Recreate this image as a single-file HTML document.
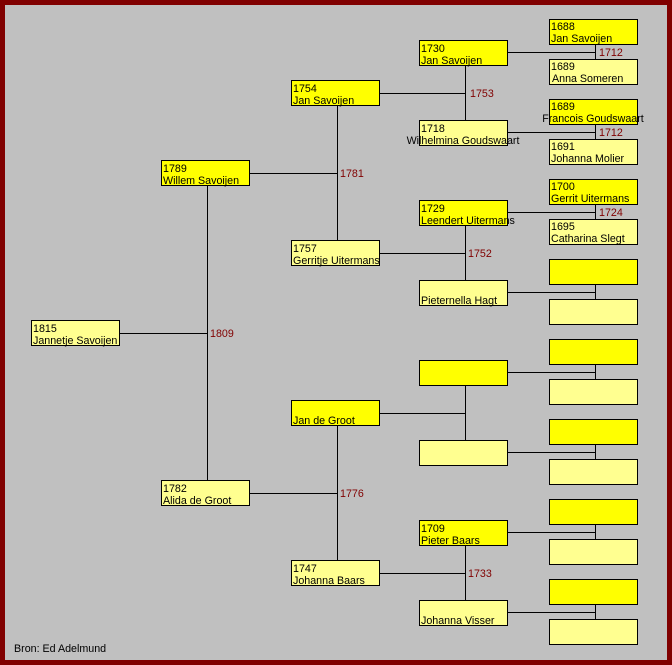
<!DOCTYPE html>
<html><head><meta charset="utf-8"><style>
html,body{margin:0;padding:0;background:#c0c0c0;}
svg{display:block;}
text{font-family:"Liberation Sans",sans-serif;font-size:10.7px;fill:#000;}
.y{fill:#800000;}
</style></head><body>
<svg width="672" height="665" xmlns="http://www.w3.org/2000/svg">
<rect x="2.5" y="2.5" width="667" height="660" fill="#c0c0c0" stroke="#800000" stroke-width="5"/>
<g stroke="#000" stroke-width="1" fill="none">
<path d="M119.5 333.5H207.5M207.5 186V481"/>
<path d="M249 173.5H337.5M337.5 106V241"/>
<path d="M249 493.5H337.5M337.5 426V561"/>
<path d="M379 93.5H465.5M465.5 65V121"/>
<path d="M379 253.5H465.5M465.5 225V281"/>
<path d="M379 413.5H465.5M465.5 385V441"/>
<path d="M379 573.5H465.5M465.5 545V601"/>
<path d="M507 52.5H595.5M595.5 44V59"/>
<path d="M507 132.5H595.5M595.5 124V139"/>
<path d="M507 212.5H595.5M595.5 204V219"/>
<path d="M507 292.5H595.5M595.5 284V299"/>
<path d="M507 372.5H595.5M595.5 364V379"/>
<path d="M507 452.5H595.5M595.5 444V459"/>
<path d="M507 532.5H595.5M595.5 524V539"/>
<path d="M507 612.5H595.5M595.5 604V619"/>
</g>
<g stroke="#000" stroke-width="1">
<rect x="31.5" y="320.5" width="88" height="25" fill="#ffff90"/>
<rect x="161.5" y="160.5" width="88" height="25" fill="#ffff00"/>
<rect x="161.5" y="480.5" width="88" height="25" fill="#ffff90"/>
<rect x="291.5" y="80.5" width="88" height="25" fill="#ffff00"/>
<rect x="291.5" y="240.5" width="88" height="25" fill="#ffff90"/>
<rect x="291.5" y="400.5" width="88" height="25" fill="#ffff00"/>
<rect x="291.5" y="560.5" width="88" height="25" fill="#ffff90"/>
<rect x="419.5" y="40.5" width="88" height="25" fill="#ffff00"/>
<rect x="419.5" y="120.5" width="88" height="25" fill="#ffff90"/>
<rect x="419.5" y="200.5" width="88" height="25" fill="#ffff00"/>
<rect x="419.5" y="280.5" width="88" height="25" fill="#ffff90"/>
<rect x="419.5" y="360.5" width="88" height="25" fill="#ffff00"/>
<rect x="419.5" y="440.5" width="88" height="25" fill="#ffff90"/>
<rect x="419.5" y="520.5" width="88" height="25" fill="#ffff00"/>
<rect x="419.5" y="600.5" width="88" height="25" fill="#ffff90"/>
<rect x="549.5" y="19.5" width="88" height="25" fill="#ffff00"/>
<rect x="549.5" y="59.5" width="88" height="25" fill="#ffff90"/>
<rect x="549.5" y="99.5" width="88" height="25" fill="#ffff00"/>
<rect x="549.5" y="139.5" width="88" height="25" fill="#ffff90"/>
<rect x="549.5" y="179.5" width="88" height="25" fill="#ffff00"/>
<rect x="549.5" y="219.5" width="88" height="25" fill="#ffff90"/>
<rect x="549.5" y="259.5" width="88" height="25" fill="#ffff00"/>
<rect x="549.5" y="299.5" width="88" height="25" fill="#ffff90"/>
<rect x="549.5" y="339.5" width="88" height="25" fill="#ffff00"/>
<rect x="549.5" y="379.5" width="88" height="25" fill="#ffff90"/>
<rect x="549.5" y="419.5" width="88" height="25" fill="#ffff00"/>
<rect x="549.5" y="459.5" width="88" height="25" fill="#ffff90"/>
<rect x="549.5" y="499.5" width="88" height="25" fill="#ffff00"/>
<rect x="549.5" y="539.5" width="88" height="25" fill="#ffff90"/>
<rect x="549.5" y="579.5" width="88" height="25" fill="#ffff00"/>
<rect x="549.5" y="619.5" width="88" height="25" fill="#ffff90"/>
</g>
<g>
<text x="33" y="332">1815</text><text x="33" y="344">Jannetje Savoijen</text>
<text x="163" y="172">1789</text><text x="163" y="184">Willem Savoijen</text>
<text x="163" y="492">1782</text><text x="163" y="504">Alida de Groot</text>
<text x="293" y="92">1754</text><text x="293" y="104">Jan Savoijen</text>
<text x="293" y="252">1757</text><text x="293" y="264">Gerritje Uitermans</text>
<text x="293" y="424">Jan de Groot</text>
<text x="293" y="572">1747</text><text x="293" y="584">Johanna Baars</text>
<text x="421" y="52">1730</text><text x="421" y="64">Jan Savoijen</text>
<text x="421" y="132">1718</text><text x="463" y="144" text-anchor="middle">Wilhelmina Goudswaart</text>
<text x="421" y="212">1729</text><text x="421" y="224">Leendert Uitermans</text>
<text x="421" y="304">Pieternella Hagt</text>
<text x="421" y="532">1709</text><text x="421" y="544">Pieter Baars</text>
<text x="421" y="624">Johanna Visser</text>
<text x="551" y="30">1688</text><text x="551" y="42">Jan Savoijen</text>
<text x="551" y="70">1689</text><text x="552" y="82">Anna Someren</text>
<text x="551" y="110">1689</text><text x="593" y="122" text-anchor="middle">Francois Goudswaart</text>
<text x="551" y="150">1691</text><text x="551" y="162">Johanna Molier</text>
<text x="551" y="190">1700</text><text x="551" y="202">Gerrit Uitermans</text>
<text x="551" y="230">1695</text><text x="551" y="242">Catharina Slegt</text>
<text class="y" x="210" y="337">1809</text>
<text class="y" x="340" y="177">1781</text>
<text class="y" x="340" y="497">1776</text>
<text class="y" x="470" y="97">1753</text>
<text class="y" x="468" y="257">1752</text>
<text class="y" x="468" y="577">1733</text>
<text class="y" x="599" y="56">1712</text>
<text class="y" x="599" y="136">1712</text>
<text class="y" x="599" y="216">1724</text>
<text x="14" y="652">Bron: Ed Adelmund</text>
</g>
</svg>
</body></html>
